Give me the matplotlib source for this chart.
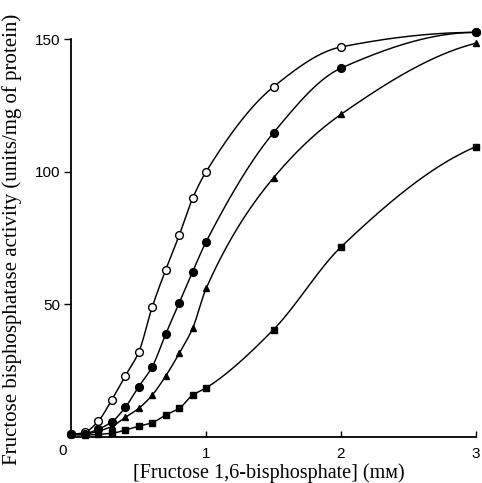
import numpy as np
import matplotlib
matplotlib.use("Agg")
import matplotlib.pyplot as plt

# Fructose 1,6-bisphosphate concentration (mM)
conc = [0, 0.1, 0.2, 0.3, 0.4, 0.5, 0.6, 0.7, 0.8, 0.9, 1.0, 1.5, 2.0, 3.0]

# activity (units/mg of protein)
open_circle = [1, 1.8, 6, 14, 23, 32, 49, 63, 76, 90, 100, 132, 147, 152.5]
filled_circle = [1, 1.3, 3, 5.7, 11.2, 19, 26.5, 38.8, 50.5, 62.3, 73.6, 114.7, 139, 152.5]
triangle = [1, 1.1, 2.2, 4, 7.4, 10.8, 15.8, 23, 31.5, 41, 56, 97.7, 121.6, 148.4]
square = [1, 0.7, 1, 1.4, 2.6, 4.1, 5.4, 8.3, 10.8, 15.8, 18.5, 40.5, 71.6, 109.4]

xticks = [1, 2, 3]
yticks = [50, 100, 150]


def pchip(x, y, xs):
    # monotone cubic interpolation for the smooth hand-drawn curves
    x = np.asarray(x, float)
    y = np.asarray(y, float)
    h = np.diff(x)
    d = np.diff(y) / h
    m = np.zeros_like(y)
    for k in range(1, len(x) - 1):
        if d[k - 1] * d[k] <= 0:
            m[k] = 0
        else:
            w1 = 2 * h[k] + h[k - 1]
            w2 = h[k] + 2 * h[k - 1]
            m[k] = (w1 + w2) / (w1 / d[k - 1] + w2 / d[k])

    def edge(h0, h1, d0, d1):
        s = ((2 * h0 + h1) * d0 - h0 * d1) / (h0 + h1)
        if np.sign(s) != np.sign(d0):
            s = 0
        elif np.sign(d0) != np.sign(d1) and abs(s) > 3 * abs(d0):
            s = 3 * d0
        return s

    m[0] = edge(h[0], h[1], d[0], d[1])
    m[-1] = edge(h[-1], h[-2], d[-1], d[-2])
    idx = np.clip(np.searchsorted(x, xs) - 1, 0, len(x) - 2)
    t = (xs - x[idx]) / h[idx]
    h00 = 2 * t**3 - 3 * t**2 + 1
    h10 = t**3 - 2 * t**2 + t
    h01 = -2 * t**3 + 3 * t**2
    h11 = t**3 - t**2
    return (h00 * y[idx] + h10 * h[idx] * m[idx]
            + h01 * y[idx + 1] + h11 * h[idx] * m[idx + 1])


fig = plt.figure(figsize=(4.82, 4.83), dpi=100)
ax = fig.add_axes([0.148, 0.0952, 0.839, 0.857])

xs = np.linspace(0, 3, 600)
series = [
    (open_circle, dict(marker="o", mfc="white", ms=5.6)),
    (filled_circle, dict(marker="o", mfc="black", ms=5.6)),
    (triangle, dict(marker="^", mfc="black", ms=4.8)),
    (square, dict(marker="s", mfc="black", ms=4.4)),
]
for vals, style in series:
    ax.plot(xs, pchip(conc, vals, xs), color="black", lw=1.05, clip_on=False)
    ax.plot(conc, vals, ls="none", mec="black", mew=1.0, clip_on=False,
            zorder=3, **style)

ax.set_xlim(0, 3)
ax.set_ylim(0, 156)
ax.spines["top"].set_visible(False)
ax.spines["right"].set_visible(False)
ax.spines["left"].set_bounds(0, 150)
ax.spines["left"].set_linewidth(1.3)
ax.spines["bottom"].set_linewidth(1.3)

ax.set_xticks(xticks)
ax.set_yticks(yticks)
ax.tick_params(axis="x", direction="in", length=4, width=1.0, pad=7,
               labelsize=11)
ax.tick_params(axis="y", direction="out", length=5, width=1.0, pad=3,
               labelsize=11)
for lab in ax.get_xticklabels() + ax.get_yticklabels():
    lab.set_family("Liberation Sans")

ax.annotate("0", xy=(0, 0), xytext=(-6, -10), textcoords="offset points",
            ha="center", va="center", fontsize=11, family="Liberation Sans")

ax.set_xlabel("[Fructose 1,6-bisphosphate] (m\u1d0d)", fontsize=14.5,
              family=["Liberation Serif", "DejaVu Serif"])
ax.set_ylabel("Fructose bisphosphatase activity (units/mg of protein)",
              fontsize=15, family="Liberation Serif")
ax.yaxis.set_label_coords(-0.122, 0.478)
ax.xaxis.set_label_coords(0.488, -0.064)

fig.savefig("out.png", dpi=100)
